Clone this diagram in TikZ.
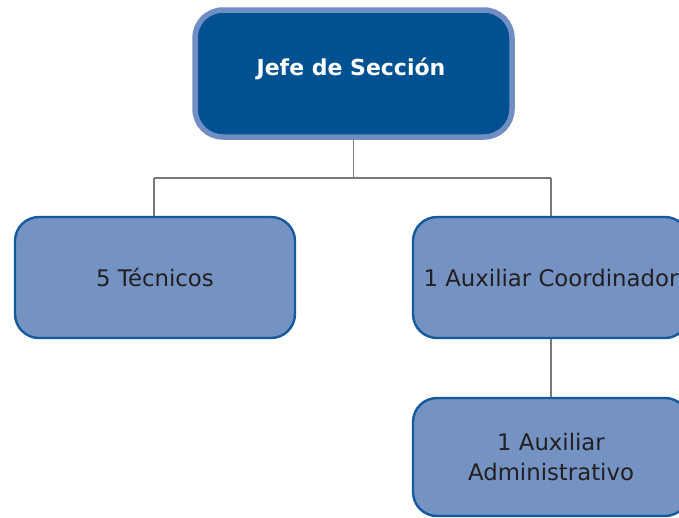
\documentclass[tikz,border=0pt]{standalone}
\usepackage{fontspec}
\setmainfont{DejaVu Sans}
\definecolor{topfill}{RGB}{0,81,145}
\definecolor{topline}{RGB}{112,142,196}
\definecolor{boxfill}{RGB}{116,146,194}
\definecolor{boxline}{RGB}{22,90,158}
\definecolor{txt}{RGB}{35,31,32}
\definecolor{conn}{RGB}{120,120,120}
\tikzset{
  topbox/.style={draw=topline, line width=5.5pt, fill=topfill, rounded corners=28pt, inner sep=0pt},
  toptext/.style={text=white, font=\fontsize{22}{26}\selectfont\bfseries},
  unitbox/.style={draw=boxline, line width=2.4pt, fill=boxfill, rounded corners=24pt,
    text=txt, font=\fontsize{22.8}{30}\selectfont, align=center, inner sep=0pt},
  link/.style={draw=conn, line width=1.4pt}
}
\begin{document}
\begin{tikzpicture}[x=1pt,y=-1pt]
\useasboundingbox (0,0) rectangle (679,517);
\clip (0,0) rectangle (679,517);
\fill[white] (0,0) rectangle (679,517);
\coordinate (bl) at (154,178);
\coordinate (bm) at (353.5,178);
\coordinate (br) at (551,178);
\node[topbox, minimum width=317pt, minimum height=127pt] (jefe) at (353.5,73.5) {};
\node[toptext] (jefet) at (351,69) {Jefe de Sección};
\node[unitbox, minimum width=280pt, minimum height=121pt] (tecn) at (155,277.5) {5 Técnicos};
\node[unitbox, minimum width=276pt, minimum height=121pt] (coord) at (551,277.5) {1 Auxiliar Coordinador};
\node[unitbox, minimum width=276pt, minimum height=118pt] (adm) at (551,457) {1 Auxiliar\\Administrativo};
\draw[link] (jefe.south) -- (bm);
\draw[link] (bl) -- (br);
\draw[link] (bl) -- (bl |- tecn.north);
\draw[link] (br) -- (coord.north);
\draw[link] (coord.south) -- (adm.north);
\end{tikzpicture}
\end{document}
